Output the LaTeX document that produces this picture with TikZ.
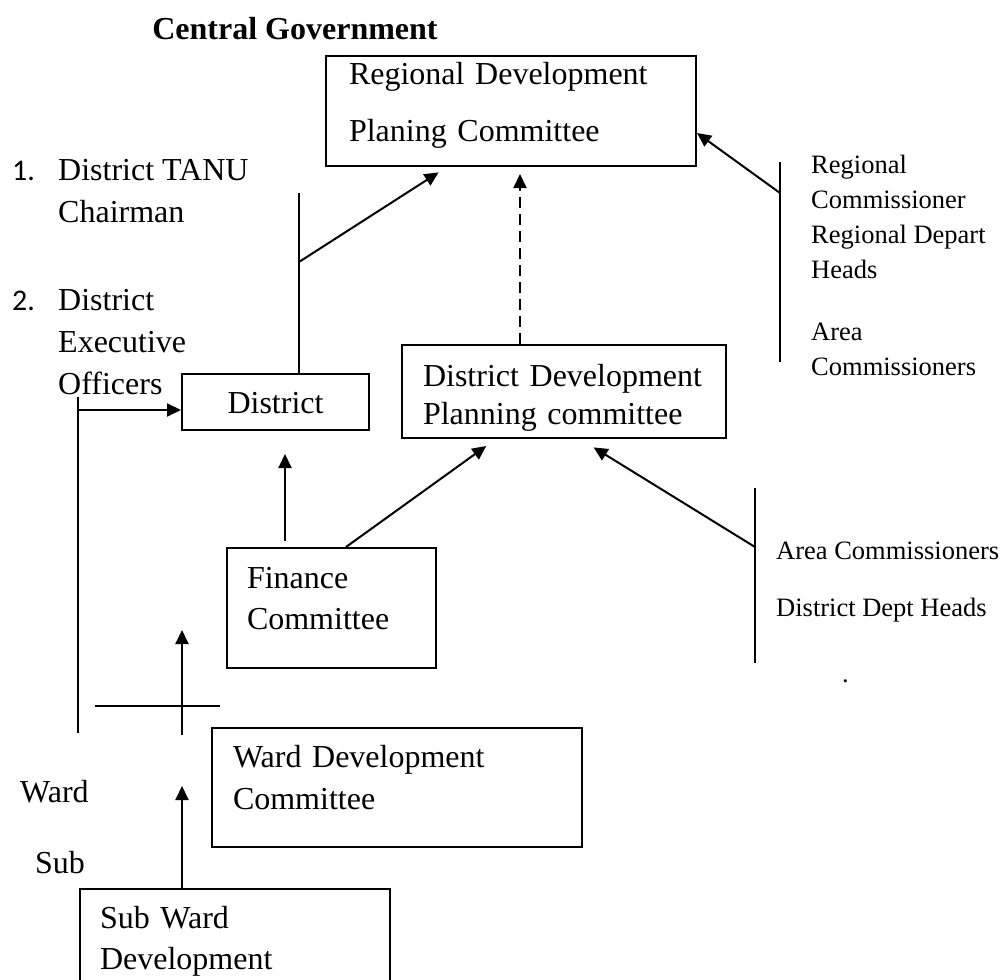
\documentclass[tikz,border=0pt]{standalone}
\usepackage{fontspec}
\setmainfont{Liberation Serif}
\newfontfamily\numfont{Carlito}
\usetikzlibrary{arrows.meta, positioning}

\begin{document}
\begin{tikzpicture}[
x=1pt, y=-1pt,
box/.style={rectangle, draw, line width=2pt, inner ysep=0pt, anchor=north west, align=left, text height=23pt, font=\fontsize{32}{42}\selectfont},
arrow/.style={line width=2pt, -{Triangle[length=14pt, width=13pt]}},
link/.style={line width=2pt},
big/.style={anchor=base west, align=left, inner sep=0pt, font=\fontsize{32}{42}\selectfont},
small/.style={anchor=base west, align=left, inner sep=0pt, font=\fontsize{26.5}{35}\selectfont}
]
\useasboundingbox (0,0) rectangle (1002,980);
\clip (0,0) rectangle (1002,980);

% committees
\node (reg) [box, minimum height=110pt, inner xsep=23pt, text width=324pt, text depth=77pt, font=\fontsize{32}{57}\selectfont] at (325,55) {Regional Development\\Planing Committee};
\node (dist) [box, minimum height=56pt, inner xsep=0pt, text width=187pt, text depth=0pt, align=center] at (181,373) {District};
\node (ddpc) [box, minimum height=93pt, inner xsep=21pt, text width=282pt, text depth=34pt, font=\fontsize{32}{38}\selectfont] at (401,344) {District Development\\Planning committee};
\node (fin) [box, minimum height=120pt, inner xsep=20pt, text width=169pt, text depth=63pt, font=\fontsize{32}{41}\selectfont] at (226,547) {Finance\\Committee};
\node (wdc) [box, minimum height=119pt, inner xsep=21pt, text width=328pt, text depth=64pt] at (211,727) {Ward Development\\Committee};
\node (swdc) [box, minimum height=120pt, inner xsep=20pt, text width=270pt, text depth=65pt, font=\fontsize{32}{41}\selectfont] at (79,888) {Sub Ward\\Development};

% members
\node (central) [anchor=base, inner sep=0pt, font=\bfseries\fontsize{32}{38}\selectfont] at (295,39) {Central Government};
\node (num1) [big, font=\numfont\fontsize{30}{42}\selectfont] at (12,180) {1.};
\node (tanu) [big] at (58,222) {District TANU\\Chairman};
\node (num2) [big, font=\numfont\fontsize{30}{42}\selectfont] at (12,310) {2.};
\node (deo) [big] at (58,394) {District\\Executive\\Officers};
\node (rcom) [small] at (811,278) {Regional\\Commissioner\\Regional Depart\\Heads};
\node (acom) [small] at (811,375) {Area\\Commissioners};
\node (ddh) [small, font=\fontsize{26.5}{57}\selectfont] at (776,616) {Area Commissioners\\District Dept Heads};
\node (dot) [small] at (842,682) {.};
\node (wardlbl) [big] at (20,802) {Ward};
\node (sublbl) [big] at (35,873) {Sub};

% bracket points
\coordinate (dtop) at (299,193);
\coordinate (dj) at (299,262);
\coordinate (rtop) at (780,162);
\coordinate (rbot) at (780,362);
\coordinate (rj) at (780,193);
\coordinate (ltop) at (78,397);
\coordinate (lbot) at (78,733);
\coordinate (lj) at (78,410);
\coordinate (atop) at (755,488);
\coordinate (abot) at (755,663);
\coordinate (aj) at (755,547);
\coordinate (hl) at (95,706);
\coordinate (hr) at (220,706);
\coordinate (wbot) at (182,735);
\coordinate (wtip) at (182,630);
\coordinate (stip) at (182,786);

\draw [link] (dtop) -- (dist.north -| dtop);
\draw [arrow, shorten >=10pt] (dj) -- ([xshift=-64pt]reg.south);
\draw [arrow, dash pattern=on 11pt off 6pt, shorten >=7pt] ([xshift=-44pt]ddpc.north) -- ([xshift=9pt]reg.south);
\draw [link] (rtop) -- (rbot);
\draw [arrow] (rj) -- ([yshift=-22pt]reg.east);
\draw [link] (ltop) -- (lbot);
\draw [arrow] (lj) -- (dist.west |- lj);
\draw [arrow, shorten <=6pt, shorten >=23pt] ([xshift=-46.5pt]fin.north) -- ([xshift=9.5pt]dist.south);
\draw [arrow, shorten >=12pt] ([xshift=14.5pt]fin.north) -- ([xshift=-68pt]ddpc.south);
\draw [link] (atop) -- (abot);
\draw [arrow, shorten >=16pt] (aj) -- ([xshift=16pt]ddpc.south);
\draw [link] (hl) -- (hr);
\draw [arrow] (wbot) -- (wtip);
\draw [arrow] (swdc.north -| wbot) -- (stip);

\end{tikzpicture}
\end{document}
